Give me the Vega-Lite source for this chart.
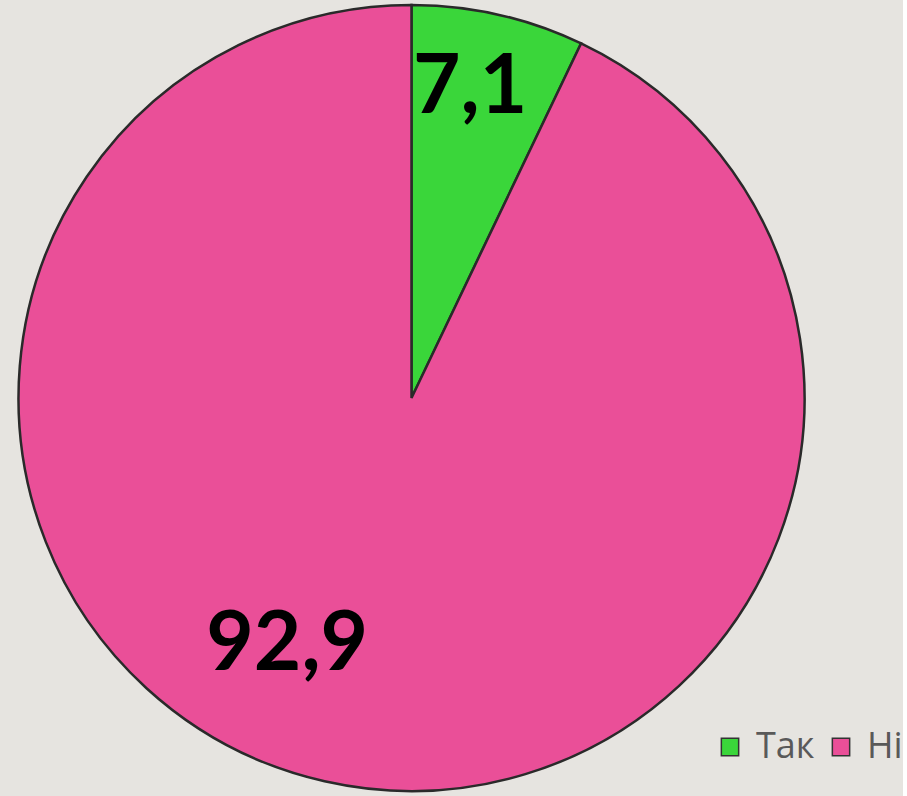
{
  "$schema": "https://vega.github.io/schema/vega-lite/v6.json",
  "width": 823,
  "height": 796,
  "padding": 0,
  "autosize": {"type": "pad"},
  "background": "#e6e4e0",
  "config": {"view": {"stroke": null}},
  "data": {"values": [
    {"answer": "Так", "value": 7.1, "label": "7,1"},
    {"answer": "Ні", "value": 92.9, "label": "92,9"}
  ]},
  "encoding": {
    "theta": {"field": "value", "type": "quantitative", "stack": true},
    "color": {
      "field": "answer", "type": "nominal",
      "sort": ["Так", "Ні"],
      "scale": {"domain": ["Так", "Ні"], "range": ["#3ad63a", "#ea4f98"]},
      "legend": {
        "title": null, "orient": "none", "direction": "horizontal",
        "legendX": 712, "legendY": 729,
        "symbolType": "square", "symbolSize": 300, "symbolStrokeColor": "#333333", "symbolStrokeWidth": 1.5,
        "labelFontSize": 36, "labelFont": "Open Sans", "labelColor": "#595959",
        "labelOffset": 8, "columnPadding": 8, "labelLimit": 300
      }
    },
    "order": {"field": "answer", "sort": "descending"}
  },
  "layer": [
    {"mark": {"type": "arc", "outerRadius": 393, "stroke": "#2a2a2a", "strokeWidth": 2.5}},
    {
      "mark": {"type": "text", "radius": 315, "dx": -11, "dy": -3, "fontSize": 82, "fontWeight": "bold", "font": "Lato"},
      "encoding": {"text": {"condition": {"test": "datum.answer === 'Так'", "field": "label"}, "value": ""}, "color": {"value": "black"}}
    },
    {
      "mark": {"type": "text", "radius": 277, "dx": -63, "dy": -23, "fontSize": 82, "fontWeight": "bold", "font": "Lato"},
      "encoding": {"text": {"condition": {"test": "datum.answer === 'Ні'", "field": "label"}, "value": ""}, "color": {"value": "black"}}
    }
  ]
}
